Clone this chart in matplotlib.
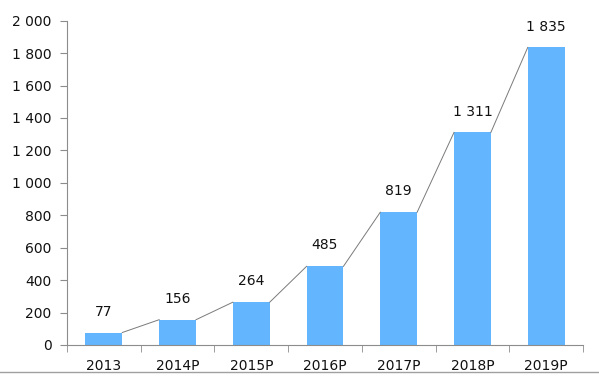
import numpy as np
import matplotlib as mpl
import matplotlib.pyplot as plt

mpl.use('Agg')

YEARS = ['2013', '2014P', '2015P', '2016P', '2017P', '2018P', '2019P']
VALUES = [77, 156, 264, 485, 819, 1311, 1835]
Y_TICKS = [0, 200, 400, 600, 800, 1000, 1200, 1400, 1600, 1800, 2000]

BAR_COLOR = '#63b6fe'
AXIS_COLOR = '#8c8c8c'


def space_thousands(v, _pos=None):
    return f'{int(v):,}'.replace(',', ' ')


plt.rcParams['font.family'] = ['DejaVu Sans']
plt.rcParams['font.size'] = 10

fig = plt.figure(figsize=(5.99, 3.77), dpi=100)
ax = fig.add_axes([67 / 599, 32 / 377, 516 / 599, 324.3 / 377])

x = np.arange(len(YEARS))
bar_w = 0.5
ax.bar(x, VALUES, width=bar_w, color=BAR_COLOR, zorder=2)

# series lines joining bar tops (Excel style)
for i in range(len(VALUES) - 1):
    ax.plot([x[i] + bar_w / 2, x[i + 1] - bar_w / 2], [VALUES[i], VALUES[i + 1]],
            color='#7a7a7a', lw=0.7, zorder=3)

for xi, v in zip(x, VALUES):
    ax.annotate(space_thousands(v), (xi, v), xytext=(0, 10), textcoords='offset points',
                ha='center', va='bottom', fontsize=10, color='#111111')

ax.set_xlim(-0.5, len(YEARS) - 0.5)
ax.set_ylim(0, 2000)
ax.set_yticks(Y_TICKS)
ax.yaxis.set_major_formatter(mpl.ticker.FuncFormatter(space_thousands))

ax.set_xticks(x)
ax.set_xticklabels(YEARS)
ax.set_xticks(np.arange(-0.5, len(YEARS)), minor=True)
ax.tick_params(axis='x', which='major', length=0, pad=10)
ax.tick_params(axis='x', which='minor', length=5, color=AXIS_COLOR, direction='out')
ax.tick_params(axis='y', length=5, color=AXIS_COLOR, direction='out', pad=6)
ax.tick_params(labelcolor='#111111')

for side in ['top', 'right']:
    ax.spines[side].set_visible(False)
for side in ['left', 'bottom']:
    ax.spines[side].set_color(AXIS_COLOR)
    ax.spines[side].set_linewidth(0.8)

# thin frame line along the bottom of the picture
fig.add_artist(mpl.lines.Line2D([0, 1], [5.5 / 377, 5.5 / 377], color='#a0a0a0', lw=1))

fig.savefig('out.png', dpi=100)
